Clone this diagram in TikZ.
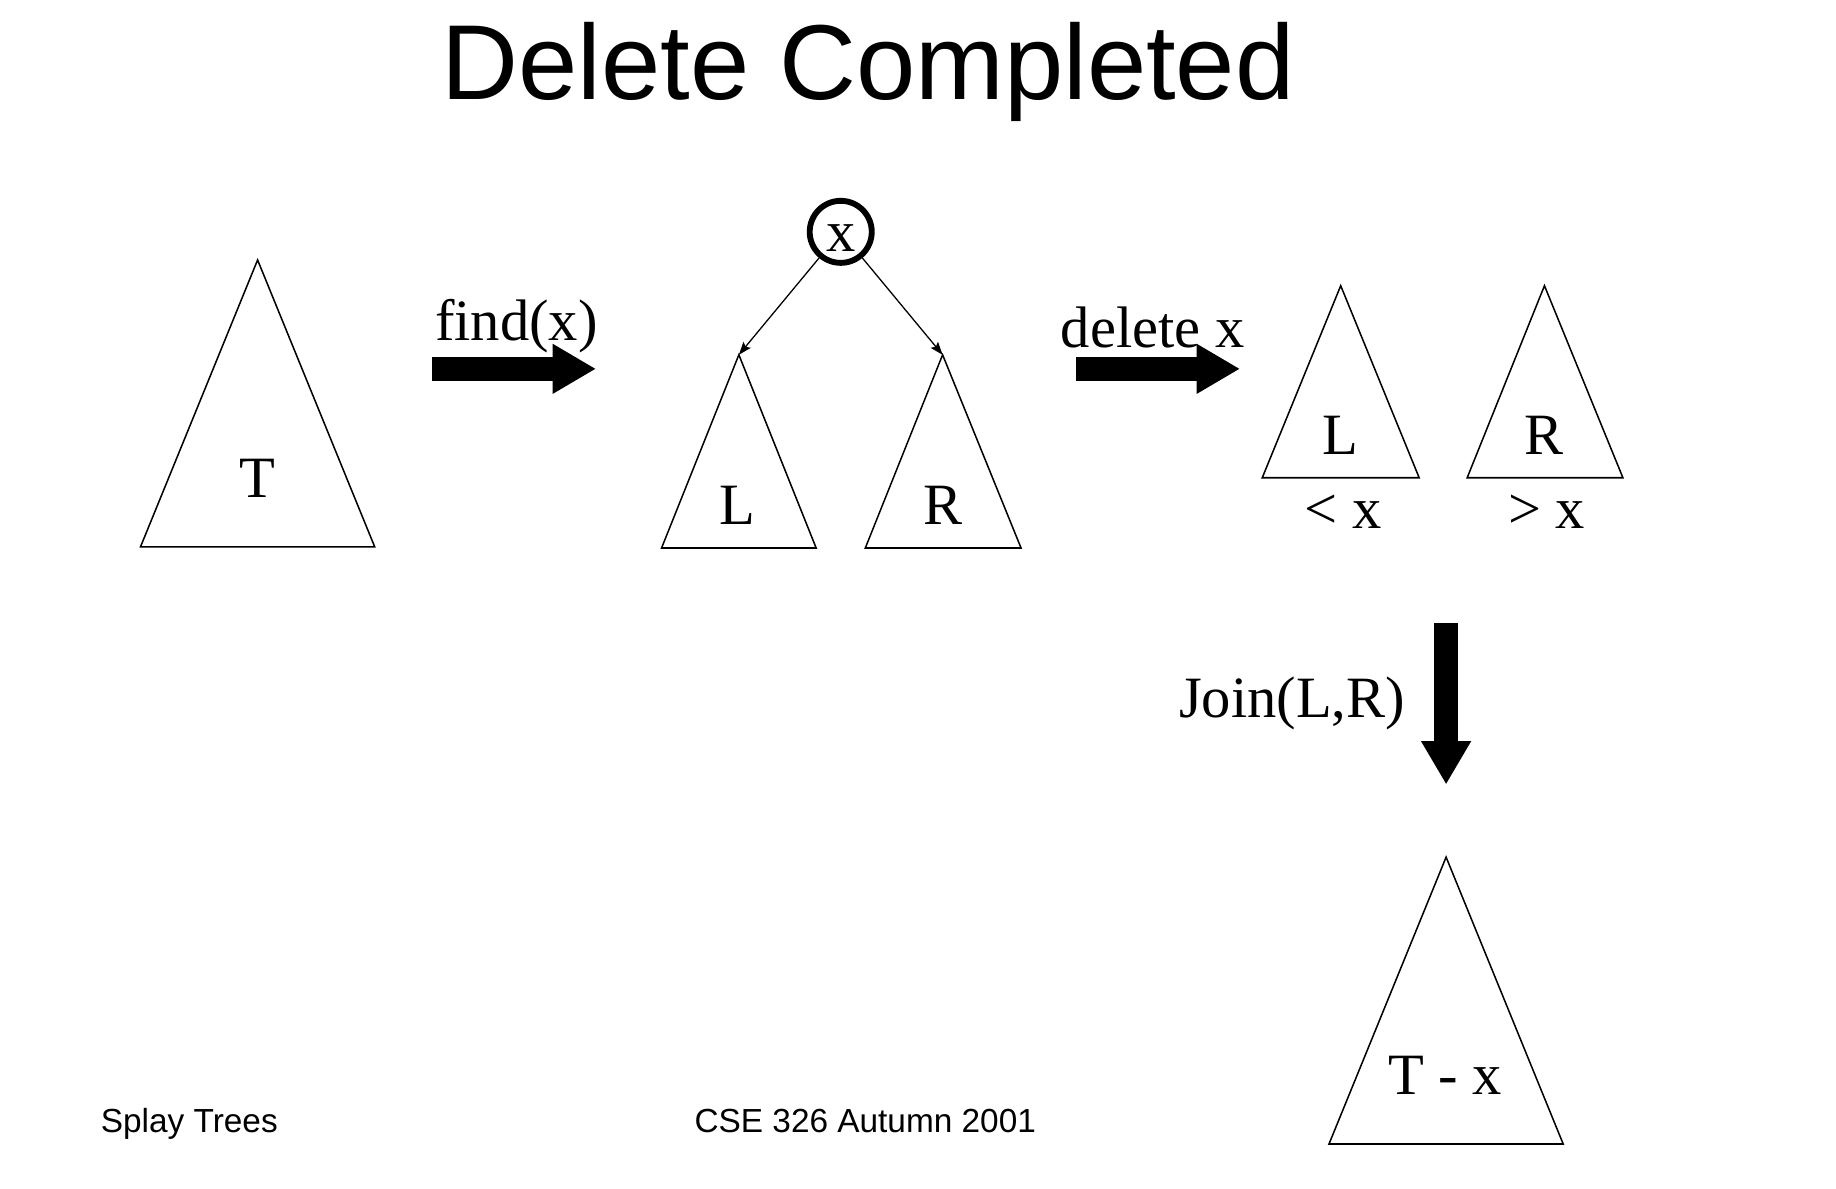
\documentclass[tikz,border=0pt]{standalone}
\usepackage{fontspec}
\setmainfont{Liberation Serif}
\newfontfamily\arialfont{Liberation Sans}
\usetikzlibrary{arrows.meta}
\tikzset{
  tri/.style={draw=black, line width=1.3pt, line join=miter},
  tlabel/.style={font=\fontsize{50}{60}\selectfont, inner sep=0pt, anchor=base},
  blockarrow/.style={line width=20pt, -{Triangle[length=37pt,width=40pt]}},
  edgearrow/.style={line width=1.1pt, -{Stealth[length=11pt,width=8pt,inset=2pt]}},
  foot/.style={font=\arialfont\fontsize{28.5}{34}\selectfont, inner sep=0pt, anchor=base west},
}
\begin{document}
\begin{tikzpicture}[x=1pt,y=-1pt]
\useasboundingbox[fill=white] (0,0) rectangle (1568,1014.6);

% title
\node[inner sep=0pt, anchor=base, font=\arialfont\fontsize{91}{100}\selectfont] (title) at (741.5,85) {Delete Completed};

% tree T
\coordinate (Ta) at (220,222);
\coordinate (Tl) at (120,467);
\coordinate (Tr) at (320,467);
\draw[tri] (Ta) -- (Tl) -- (Tr) -- cycle;
\node[tlabel] (Tlab) at (220,425) {T};

% find(x)
\node[tlabel] (find) at (441,291) {find(x)};
\coordinate (a1s) at (369,315);
\coordinate (a1e) at (509,315);
\draw[blockarrow] (a1s) -- (a1e);

% root x with subtrees
\node[circle, draw, line width=5pt, minimum size=53pt, inner sep=0pt,
      text height=33pt, text depth=0pt,
      font=\fontsize{50}{60}\selectfont] (root) at (718,198) {x};
\coordinate (La) at (631,303);
\coordinate (Ll) at (565,468);
\coordinate (Lr) at (697,468);
\draw[tri] (La) -- (Ll) -- (Lr) -- cycle;
\node[tlabel] (Llab) at (630,448) {L};
\coordinate (Ra) at (805,303);
\coordinate (Rl) at (739,468);
\coordinate (Rr) at (872,468);
\draw[tri] (Ra) -- (Rl) -- (Rr) -- cycle;
\node[tlabel] (Rlab) at (805,448) {R};
\draw[edgearrow] (root) -- (La);
\draw[edgearrow] (root) -- (Ra);

% delete x
\coordinate (a2s) at (919,315);
\coordinate (a2e) at (1059,315);
\draw[blockarrow] (a2s) -- (a2e);
\node[tlabel] (del) at (984.5,297) {delete x};

% split trees
\coordinate (L2a) at (1145,244);
\coordinate (L2l) at (1078,408);
\coordinate (L2r) at (1212,408);
\draw[tri] (L2a) -- (L2l) -- (L2r) -- cycle;
\node[tlabel] (L2lab) at (1145,388) {L};
\coordinate (R2a) at (1319,244);
\coordinate (R2l) at (1253,408);
\coordinate (R2r) at (1386,408);
\draw[tri] (R2a) -- (R2l) -- (R2r) -- cycle;
\node[tlabel] (R2lab) at (1319,388) {R};
\node[tlabel] (lt) at (1147,451) {< x};
\node[tlabel] (gt) at (1321,451) {> x};

% join
\coordinate (a3s) at (1235,532);
\coordinate (a3e) at (1235,670);
\draw[blockarrow] (a3s) -- (a3e);
\node[tlabel] (join) at (1103.5,613) {Join(L,R)};

% result tree
\coordinate (Xa) at (1235,732);
\coordinate (Xl) at (1135,977);
\coordinate (Xr) at (1335,977);
\draw[tri] (Xa) -- (Xl) -- (Xr) -- cycle;
\node[tlabel] (Xlab) at (1234,935) {T - x};

% footer
\node[foot] (f1) at (86,967) {Splay Trees};
\node[foot] (f2) at (593,967) {CSE 326 Autumn 2001};
\end{tikzpicture}
\end{document}
